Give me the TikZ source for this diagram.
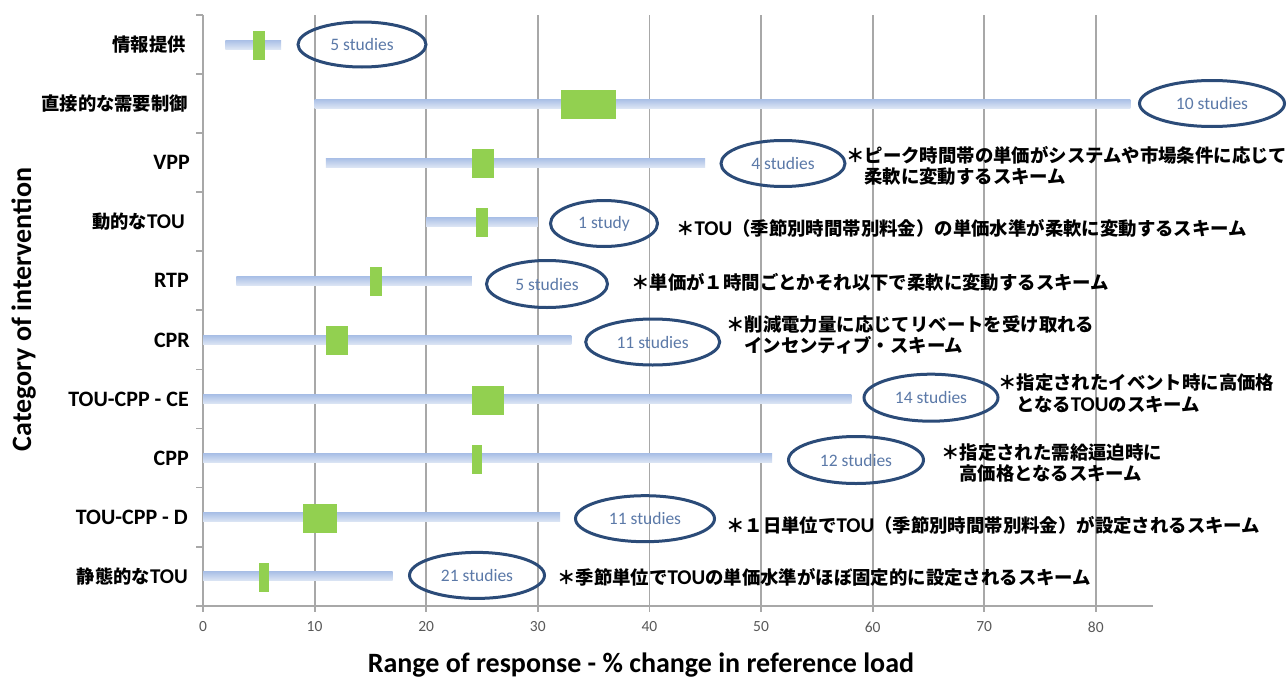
\documentclass[tikz,border=0pt]{standalone}
\usepackage{fontspec}
\usetikzlibrary{shapes.geometric}
\setmainfont{Carlito}
\newfontfamily\jpfont{Noto Sans CJK JP}
\definecolor{gridgray}{HTML}{A8A8A8}
\definecolor{bartop}{HTML}{A9BFE6}
\definecolor{barbot}{HTML}{DCE5F4}
\definecolor{boxgreen}{HTML}{92D050}
\definecolor{ellline}{HTML}{2B4B78}
\definecolor{elltext}{HTML}{5B79A8}
\definecolor{ticktext}{HTML}{595959}
\newcommand\xv[1]{(203+11.16*(#1))}
\newcommand\lat[1]{{\normalfont\bfseries\fontsize{21}{21}\selectfont #1}}
\newcommand\respbar[5]{%
  \shade[top color=bartop, bottom color=barbot] ({\xv{#2}},#1-4.5) rectangle ({\xv{#3}},#1+4.5);
  \fill[boxgreen] ({\xv{#4}},#1-13.5) rectangle ({\xv{#5}},#1+15.5);}
\tikzset{
  catlabel/.style={anchor=east, font=\bfseries\fontsize{22}{24}\selectfont, inner sep=0pt},
  jplabel/.style={anchor=east, font=\jpfont\bfseries\fontsize{18.3}{21}\selectfont, inner sep=0pt},
  note/.style={anchor=west, align=left, font=\jpfont\bfseries\fontsize{18.4}{21.5}\selectfont, inner sep=0pt},
  studies/.style={ellipse, draw=ellline, line width=3pt, inner sep=0pt, text=elltext, font=\fontsize{17.5}{18}\selectfont},
  ticklabel/.style={text=ticktext, font=\fontsize{15.5}{16}\selectfont, inner sep=0pt},
  axtitle/.style={font=\bfseries\fontsize{28}{30}\selectfont, inner sep=0pt},
  gridline/.style={draw=gridgray, line width=1.8pt},
}
\begin{document}
\begin{tikzpicture}[x=1pt,y=-1pt]
\useasboundingbox (0,0) rectangle (1288,680);
\fill[white] (0,0) rectangle (1288,680);
% grid
\foreach \v in {10,20,...,80} \draw[gridline] ({\xv{\v}},15) -- ({\xv{\v}},612);
\draw[gridline] (203,15) -- (203,612);
\draw[gridline] (196,605.7) -- (1153,605.7);
\foreach \k in {0,...,9} \draw[gridline] (196,{15+59.07*\k}) -- (203,{15+59.07*\k});
% tick labels
\foreach \v in {0,10,...,80} \node[ticklabel] (t\v) at ({\xv{\v}},627) {\v};
% bars: y, blue lo, hi, green lo, hi
\respbar{44.5}{2}{7}{4.5}{5.55}
\respbar{103.6}{10}{83.1}{32.1}{37}
\respbar{162.7}{11}{45}{24.1}{26.1}
\respbar{221.8}{20}{30}{24.5}{25.5}
\respbar{280.8}{3}{24.1}{15}{16}
\respbar{339.9}{0}{33}{11}{13}
\respbar{399}{0}{58.1}{24.1}{27}
\respbar{458}{0}{51}{24.1}{25}
\respbar{517}{0}{32}{9}{12}
\respbar{576}{0}{17}{5.05}{5.95}
% category labels
\node[jplabel] (c1) at (186,44.5) {情報提供};
\node[jplabel] (c2) at (188,103.6) {直接的な需要制御};
\node[catlabel] (c3) at (190,162.7) {VPP};
\node[jplabel] (c4) at (185,221.8) {動的な\lat{TOU}};
\node[catlabel] (c5) at (189,280.8) {RTP};
\node[catlabel] (c6) at (190,339.9) {CPR};
\node[catlabel] (c7) at (189,399) {TOU-CPP - CE};
\node[catlabel] (c8) at (189,458) {CPP};
\node[catlabel] (c9) at (188,517) {TOU-CPP - D};
\node[jplabel] (c10) at (188,576) {静態的な\lat{TOU}};
% study ellipses
\node[studies, minimum width=128pt, minimum height=45pt] (e1) at (362,44.5) {5 studies};
\node[studies, minimum width=145pt, minimum height=46pt] (e2) at (1212,103.5) {10 studies};
\node[studies, minimum width=124pt, minimum height=46pt] (e3) at (783,163.5) {4 studies};
\node[studies, minimum width=107pt, minimum height=46pt] (e4) at (604,223.5) {1 study};
\node[studies, minimum width=121pt, minimum height=47pt] (e5) at (547,284) {5 studies};
\node[studies, minimum width=134pt, minimum height=46pt] (e6) at (652.7,342) {11 studies};
\node[studies, minimum width=134pt, minimum height=47pt] (e7) at (931,397.7) {14 studies};
\node[studies, minimum width=135pt, minimum height=47pt] (e8) at (856,460) {12 studies};
\node[studies, minimum width=139pt, minimum height=46pt] (e9) at (645,518.7) {11 studies};
\node[studies, minimum width=135pt, minimum height=46pt] (e10) at (477,575.4) {21 studies};
% notes
\node[note] (n3) at (846,166) {＊ピーク時間帯の単価がシステムや市場条件に応じて\\\hspace*{18pt}柔軟に変動するスキーム};
\node[note] (n4) at (676,228) {＊\lat{TOU}（季節別時間帯別料金）の単価水準が柔軟に変動するスキーム};
\node[note] (n5) at (631,282) {＊単価が１時間ごとかそれ以下で柔軟に変動するスキーム};
\node[note] (n6) at (726,335) {＊削減電力量に応じてリベートを受け取れる\\\hspace*{18pt}インセンティブ・スキーム};
\node[note] (n7) at (998,393.5) {＊指定されたイベント時に高価格\\\hspace*{18pt}となる\lat{TOU}のスキーム};
\node[note] (n8) at (941,463) {＊指定された需給逼迫時に\\\hspace*{18pt}高価格となるスキーム};
\node[note] (n9) at (726,525) {＊１日単位で\lat{TOU}（季節別時間帯別料金）が設定されるスキーム};
\node[note] (n10) at (557,577) {＊季節単位で\lat{TOU}の単価水準がほぼ固定的に設定されるスキーム};
% axis titles
\node[axtitle, rotate=90, anchor=base] (ytitle) at (31,309.5) {Category of intervention};
\node[axtitle, anchor=base] (xtitle) at (641,672) {Range of response - \% change in reference load};
\end{tikzpicture}
\end{document}
